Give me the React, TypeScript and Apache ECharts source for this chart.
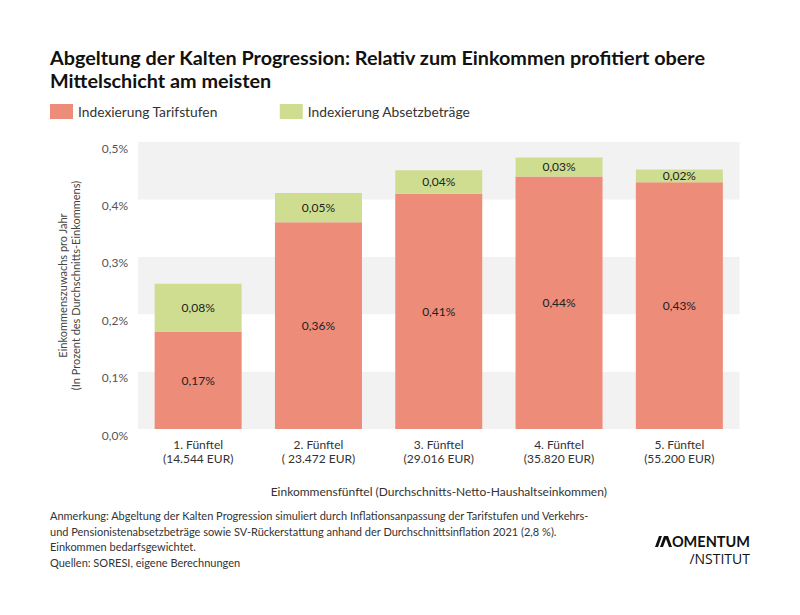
import React, { useEffect, useRef } from "react";
import * as echarts from "echarts";

const categories = [
  "1. Fünftel\n(14.544 EUR)",
  "2. Fünftel\n( 23.472 EUR)",
  "3. Fünftel\n(29.016 EUR)",
  "4. Fünftel\n(35.820 EUR)",
  "5. Fünftel\n(55.200 EUR)",
];
const tarifstufen = [0.17, 0.36, 0.41, 0.44, 0.43];
const absetzbetraege = [0.083, 0.051, 0.041, 0.033, 0.022];
const seriesNames = ["Indexierung Tarifstufen", "Indexierung Absetzbeträge"];
const yTicks = { min: 0, max: 0.5, interval: 0.1 };

const titleText =
  "Abgeltung der Kalten Progression: Relativ zum Einkommen profitiert obere\nMittelschicht am meisten";
const noteLines = [
  "Anmerkung: Abgeltung der Kalten Progression simuliert durch Inflationsanpassung der Tarifstufen und Verkehrs-",
  "und Pensionistenabsetzbeträge sowie SV-Rückerstattung anhand der Durchschnittsinflation 2021 (2,8 %).",
  "Einkommen bedarfsgewichtet.",
  "Quellen: SORESI, eigene Berechnungen",
];

const FONT = "Lato, 'Noto Sans', sans-serif";
const fmtPct = (v: number, d: number) => v.toFixed(d).replace(".", ",") + "%";

export default function App() {
  const ref = useRef<HTMLDivElement>(null);
  useEffect(() => {
    if (!ref.current) return;
    const chart = echarts.init(ref.current, null, { renderer: "svg" });
    const labelStyle = {
      show: true,
      position: "inside" as const,
      color: "#222",
      fontSize: 12,
      fontFamily: FONT,
      formatter: (p: any) => fmtPct(p.value, 2),
    };
    chart.setOption({
      animation: false,
      backgroundColor: "#ffffff",
      textStyle: { fontFamily: FONT },
      title: {
        text: titleText,
        left: 50,
        top: 45,
        padding: 0,
        textStyle: {
          fontFamily: FONT,
          fontSize: 19.8,
          fontWeight: "bold",
          color: "#111",
          lineHeight: 23,
        },
      },
      legend: {
        left: 50,
        top: 104,
        padding: 0,
        itemWidth: 23,
        itemHeight: 15,
        itemGap: 62,
        icon: "rect",
        textStyle: {
          fontFamily: FONT,
          fontSize: 13.8,
          color: "#333",
        },
        data: seriesNames,
      },
      grid: { left: 138, right: 60.5, top: 142, bottom: 186 },
      xAxis: {
        type: "category",
        data: categories,
        axisLine: { show: false },
        axisTick: { show: false },
        axisLabel: {
          color: "#333",
          fontSize: 12,
          lineHeight: 14.5,
          margin: 8,
          fontFamily: FONT,
        },
        name: "Einkommensfünftel (Durchschnitts-Netto-Haushaltseinkommen)",
        nameLocation: "middle",
        nameGap: 56,
        nameTextStyle: { color: "#333", fontSize: 12, fontFamily: FONT },
      },
      yAxis: {
        type: "value",
        min: yTicks.min,
        max: yTicks.max,
        interval: yTicks.interval,
        axisLine: { show: false },
        axisTick: { show: false },
        splitLine: { show: false },
        splitArea: { show: true, areaStyle: { color: ["#f2f2f2", "#ffffff"] } },
        axisLabel: {
          color: "#555",
          fontSize: 12,
          margin: 10,
          verticalAlign: "top",
          fontFamily: FONT,
          formatter: (v: number) => fmtPct(v, 1),
        },
        name: "Einkommenszuwachs pro Jahr\n(In Prozent des Durchschnitts-Einkommens)",
        nameLocation: "middle",
        nameRotate: 90,
        nameGap: 56,
        nameTextStyle: {
          color: "#444",
          fontSize: 11,
          lineHeight: 13,
          fontFamily: FONT,
        },
      },
      series: [
        {
          name: seriesNames[0],
          type: "bar",
          stack: "total",
          data: tarifstufen,
          barWidth: 87,
          itemStyle: { color: "#ec8c79" },
          label: labelStyle,
        },
        {
          name: seriesNames[1],
          type: "bar",
          stack: "total",
          data: absetzbetraege,
          barWidth: 87,
          itemStyle: { color: "#cfdd91" },
          label: labelStyle,
        },
      ],
      graphic: [
        {
          type: "text",
          left: 50,
          top: 508,
          style: {
            text: noteLines.join("\n"),
            fontFamily: FONT,
            fontSize: 11,
            lineHeight: 15.5,
            fill: "#333",
          },
        },
        { type: "polygon", shape: { points: [[655, 547], [659, 536], [662, 536], [658, 547]] }, style: { fill: "#111" } },
        { type: "polygon", shape: { points: [[660, 547], [664, 536], [667, 536], [663, 547]] }, style: { fill: "#111" } },
        { type: "polygon", shape: { points: [[665, 536], [668, 536], [672, 547], [669, 547]] }, style: { fill: "#111" } },
        {
          type: "text",
          x: 750,
          y: 541.5,
          style: {
            text: "OMENTUM",
            align: "right",
            verticalAlign: "middle",
            fontFamily: FONT,
            fontSize: 14.5,
            fontWeight: "bold",
            fill: "#111",
          },
        },
        {
          type: "text",
          x: 750,
          y: 558.5,
          style: {
            text: "/NSTITUT",
            align: "right",
            verticalAlign: "middle",
            fontFamily: "'Open Sans', sans-serif",
            fontSize: 14,
            fill: "#111",
          },
        },
      ],
    });
    return () => chart.dispose();
  }, []);
  return (
    <div
      ref={ref}
      style={{ position: "fixed", left: 0, top: 0, width: 800, height: 615 }}
    />
  );
}
